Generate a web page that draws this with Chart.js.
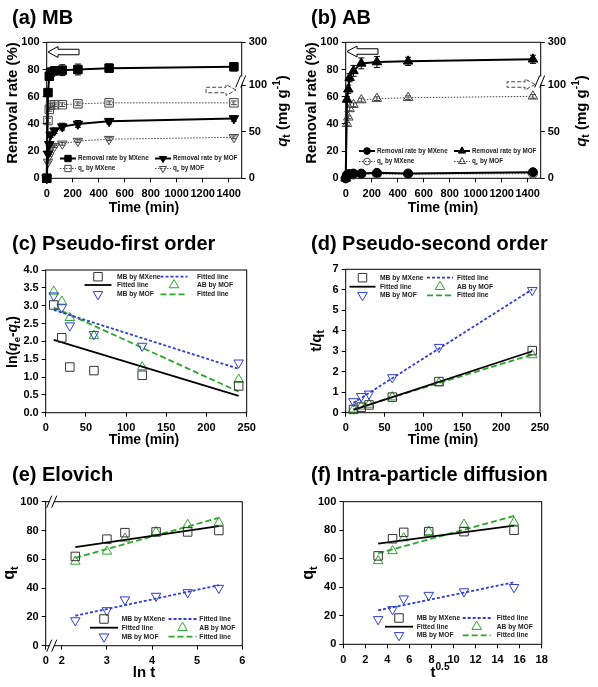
<!DOCTYPE html>
<html>
<head>
<meta charset="utf-8">
<script src="https://cdn.jsdelivr.net/npm/chart.js"></script>
<style>
  html, body { margin: 0; padding: 0; background: #fff; }
  #wrap { position: relative; width: 598px; height: 687px; overflow: hidden; }
  canvas { position: absolute; }
</style>
</head>
<body>
<div id="wrap">
  <canvas id="cA" width="299" height="229" style="left:0;top:0"></canvas>
  <canvas id="cB" width="299" height="229" style="left:299px;top:0"></canvas>
  <canvas id="cC" width="299" height="226" style="left:0;top:229px"></canvas>
  <canvas id="cD" width="299" height="226" style="left:299px;top:229px"></canvas>
  <canvas id="cE" width="299" height="232" style="left:0;top:455px"></canvas>
  <canvas id="cF" width="299" height="232" style="left:299px;top:455px"></canvas>
</div>
<script>
// ---------- data ----------
// (a), (b) kinetics, time in min
var timeMin = [0, 10, 20, 30, 60, 120, 240, 480, 1440];

var mbRemovalMXene    = [0, 63, 75, 78, 79, 79.5, 80, 81, 82];
var mbRemovalMXeneErr = [0, 2, 3, 3, 3, 4, 4, 3, 3];
var mbRemovalMOF      = [0, 18, 25, 32, 35, 38, 40, 42, 44];
var mbRemovalMOFErr   = [0, 1, 1.5, 2, 2, 2.5, 2.5, 2, 2];
var mbQeMXene         = [0, 62, 74, 78.5, 79, 79, 80, 81, 81];
var mbQeMXeneErr      = [0, 2.5, 2, 2, 2, 2, 2, 2, 2];
var mbQeMOF           = [0, 17.5, 24.5, 32, 34.5, 37, 40, 42, 44];
var mbQeMOFErr        = [0, 1, 1, 1.5, 1.5, 1.5, 1.5, 1.5, 1.5];

var abRemovalMXene    = [0, 2.5, 3, 3, 3.5, 3.5, 4, 3.5, 4.5];
var abRemovalMOF      = [0, 58, 65.5, 74, 79, 84.5, 85.5, 86, 87.5];
var abRemovalMOFErr   = [0, 2, 3, 3, 4, 4, 4, 3, 3];
var abQeMXene         = [0, 3, 3.5, 4, 4, 4.5, 4.5, 4.5, 5];
var abQeMOF           = [0, 58.5, 65.5, 74.5, 79, 84, 85.5, 86.5, 88];
var abQeMOFErr        = [0, 1.5, 1.5, 2, 2, 2, 2, 2, 2];

// right axis of (a)/(b) is broken: 0-100 linear, top tick labelled 300
var qAxisTop = 146;
var qAxisTopLabel = '300';
var qAxisTicks = [0, 50, 100];

// (c)-(f) model fitting, t = 10..240 min
var fitTime = [10, 20, 30, 60, 120, 240];
var lnT     = [2.30, 3.00, 3.40, 4.09, 4.79, 5.48];
var sqrtT   = [3.16, 4.47, 5.48, 7.75, 10.95, 15.49];

// (c) pseudo-first order ln(qe-qt)
var pfoMXene  = [3.02, 2.10, 1.28, 1.18, 1.05, 0.75];
var pfoMB_MOF = [3.28, 2.95, 2.44, 2.20, 1.87, 1.40];
var pfoAB_MOF = [3.40, 3.12, 2.66, 2.16, 1.28, 0.93];
var pfoFitX        = [10, 240];
var pfoFitMXene    = [2.04, 0.47];
var pfoFitMB_MOF   = [2.88, 1.23];
var pfoFitAB_MOF   = [2.95, 0.59];

// (d) pseudo-second order t/qt
var psoMXene  = [0.16, 0.27, 0.38, 0.76, 1.52, 3.03];
var psoMB_MOF = [0.55, 0.80, 0.92, 1.72, 3.20, 5.98];
var psoAB_MOF = [0.17, 0.31, 0.40, 0.76, 1.45, 2.82];
var psoFitX        = [10, 240];
var psoFitMXene    = [0.14, 3.00];
var psoFitMB_MOF   = [0.48, 6.02];
var psoFitAB_MOF   = [0.18, 2.84];

// (e), (f) qt
var qtMXene  = [62, 74, 78.5, 79, 79, 80];
var qtMB_MOF = [17.5, 24.5, 32, 34.5, 37, 40];
var qtAB_MOF = [58.5, 65.5, 74.5, 79, 84, 85.5];
var eloFitX        = [2.30, 5.48];
var eloFitMXene    = [68.5, 83];
var eloFitMB_MOF   = [20.8, 42];
var eloFitAB_MOF   = [61, 88.8];
var ipdFitX        = [3.16, 15.49];
var ipdFitMXene    = [70.6, 83.2];
var ipdFitMB_MOF   = [23.8, 43.5];
var ipdFitAB_MOF   = [63.8, 90];

// ---------- helpers ----------
var FONT = '"Liberation Sans", Arial, Helvetica, sans-serif';
var W = 299;
var BLUE = '#2f3fd6', GREEN = '#2ea62e', GREY = '#333';

function xy(xs, ys) {
  return xs.map(function (x, i) { return { x: x, y: ys[i] }; });
}

// "q_{t}" subscript, "^{-1}" superscript, "~{q}" italic
function richParts(str) {
  var out = [], re = /([_^~])\{([^}]*)\}/g, last = 0, m;
  while ((m = re.exec(str))) {
    if (m.index > last) out.push({ t: str.slice(last, m.index), k: '' });
    out.push({ t: m[2], k: m[1] });
    last = re.lastIndex;
  }
  if (last < str.length) out.push({ t: str.slice(last), k: '' });
  return out;
}

function drawRich(ctx, str, x, y, size, opt) {
  opt = opt || {};
  var weight = opt.weight || 'bold';
  var parts = richParts(str), w = 0;
  parts.forEach(function (p) {
    var small = p.k === '_' || p.k === '^';
    p.font = (p.k === '~' ? 'italic ' : '') + weight + ' ' + (small ? size * 0.68 : size) + 'px ' + FONT;
    p.dy = p.k === '_' ? size * 0.3 : p.k === '^' ? -size * 0.38 : 0;
    ctx.font = p.font;
    p.dx = w;
    w += ctx.measureText(p.t).width;
  });
  ctx.save();
  ctx.translate(x, y);
  if (opt.rot) ctx.rotate(opt.rot);
  ctx.fillStyle = opt.color || '#000';
  ctx.textBaseline = 'middle';
  ctx.textAlign = 'left';
  var x0 = opt.align === 'left' ? 0 : -w / 2;
  parts.forEach(function (p) {
    ctx.font = p.font;
    ctx.fillText(p.t, x0 + p.dx, p.dy);
  });
  ctx.restore();
}

function drawBreak(ctx, x, y) {
  ctx.save();
  ctx.beginPath();
  ctx.moveTo(x - 5, y + 5); ctx.lineTo(x - 1, y - 5);
  ctx.lineTo(x + 3, y - 5); ctx.lineTo(x - 1, y + 5);
  ctx.closePath();
  ctx.fillStyle = '#fff';
  ctx.fill();
  ctx.strokeStyle = '#000';
  ctx.lineWidth = 1;
  ctx.beginPath();
  ctx.moveTo(x - 6, y + 6); ctx.lineTo(x - 1, y - 6);
  ctx.moveTo(x - 1, y + 6); ctx.lineTo(x + 4, y - 6);
  ctx.stroke();
  ctx.restore();
}

function drawArrow(ctx, a) {
  // a.x1 = tail, a.x2 = tip
  var dir = a.x2 > a.x1 ? 1 : -1, hl = 10 * dir, hh = a.h / 2, sh = a.h / 4;
  var base = a.x2 - hl;
  ctx.save();
  ctx.beginPath();
  ctx.moveTo(a.x2, a.y);
  ctx.lineTo(base, a.y - hh);
  ctx.lineTo(base, a.y - sh);
  ctx.lineTo(a.x1, a.y - sh);
  ctx.lineTo(a.x1, a.y + sh);
  ctx.lineTo(base, a.y + sh);
  ctx.lineTo(base, a.y + hh);
  ctx.closePath();
  ctx.fillStyle = '#fff';
  ctx.fill();
  ctx.setLineDash(a.dashed ? [4, 2] : []);
  ctx.strokeStyle = a.dashed ? '#444' : '#000';
  ctx.lineWidth = 1;
  ctx.stroke();
  ctx.restore();
}

var decor = {
  id: 'decor',
  beforeDatasetsDraw: function (chart) {
    var ctx = chart.ctx, a = chart.chartArea;
    ctx.save();
    ctx.strokeStyle = '#000';
    ctx.lineWidth = 1;
    ctx.strokeRect(a.left, a.top, a.right - a.left, a.bottom - a.top);
    // error bars
    chart.data.datasets.forEach(function (d, i) {
      if (!d.errors) return;
      var meta = chart.getDatasetMeta(i), ys = chart.scales[d.yAxisID || 'y'];
      ctx.strokeStyle = d.pointBorderColor;
      ctx.beginPath();
      d.data.forEach(function (p, j) {
        var e = d.errors[j];
        if (!e) return;
        var x = meta.data[j].x, y1 = ys.getPixelForValue(p.y + e), y2 = ys.getPixelForValue(p.y - e);
        ctx.moveTo(x, y1); ctx.lineTo(x, y2);
        ctx.moveTo(x - 3, y1); ctx.lineTo(x + 3, y1);
        ctx.moveTo(x - 3, y2); ctx.lineTo(x + 3, y2);
      });
      ctx.stroke();
    });
    ctx.restore();
  },
  afterDatasetsDraw: function (chart, args, o) {
    var ctx = chart.ctx, a = chart.chartArea;
    (o.breaks || []).forEach(function (b) {
      if (b.axis === 'x') {
        var x = chart.scales.x.getPixelForValue(b.value);
        drawBreak(ctx, x, a.top);
        drawBreak(ctx, x, a.bottom);
      } else {
        drawBreak(ctx, a.right, chart.scales[b.axis].getPixelForValue(b.value));
      }
    });
    (o.arrows || []).forEach(function (ar) { drawArrow(ctx, ar); });
    var lg = o.legend;
    if (lg) {
      lg.items.forEach(function (it) {
        var d = chart.data.datasets[it[0]], col = lg.cols[it[1]], y = lg.rows[it[2]];
        ctx.save();
        if (d.showLine) {
          ctx.strokeStyle = d.borderColor;
          ctx.lineWidth = d.borderWidth;
          ctx.setLineDash(d.borderDash || []);
          ctx.beginPath();
          ctx.moveTo(col.cx - lg.len / 2, y);
          ctx.lineTo(col.cx + lg.len / 2, y);
          ctx.stroke();
        }
        if (d.pointRadius > 0) {
          ctx.setLineDash([]);
          ctx.fillStyle = d.pointBackgroundColor;
          ctx.strokeStyle = d.pointBorderColor;
          ctx.lineWidth = d.pointBorderWidth;
          Chart.helpers.drawPoint(ctx, {
            pointStyle: d.pointStyle, rotation: d.pointRotation || 0,
            radius: d.pointRadius * lg.mscale, borderWidth: d.pointBorderWidth
          }, col.cx, y);
        }
        ctx.restore();
        drawRich(ctx, d.label, col.tx, y, lg.size, { align: 'left', color: '#222' });
      });
    }
  },
  afterDraw: function (chart, args, o) {
    (o.texts || []).forEach(function (t) {
      drawRich(chart.ctx, t.s, t.x, t.y, t.size, { rot: t.rot ? -Math.PI / 2 : 0, align: t.align });
    });
  }
};

var tickFont = { family: FONT, size: 11, weight: 'bold' };

function axis(pos, min, max, step, size, more) {
  var horiz = pos === 'bottom';
  var a = {
    type: 'linear', position: pos, min: min, max: max,
    ticks: { stepSize: step, includeBounds: false, autoSkip: false, maxRotation: 0,
             color: '#000', padding: horiz ? 5 : 3, font: tickFont,
             callback: function (v) { return String(v); } },
    grid: { drawOnChartArea: false, drawTicks: true, tickLength: 4, color: '#000', lineWidth: 1 },
    border: { display: false }
  };
  more = more || {};
  if (more.callback) a.ticks.callback = more.callback;
  if (more.afterBuildTicks) a.afterBuildTicks = more.afterBuildTicks;
  return a;
}

function pts(label, data, color, style, rot, filled, more) {
  return Object.assign({
    label: label, data: data, showLine: false, clip: false,
    borderColor: color, borderWidth: 1,
    pointStyle: style, pointRotation: rot, pointRadius: style === 'rect' ? 6 : 5.5,
    pointBorderColor: color, pointBackgroundColor: filled ? color : 'rgba(0,0,0,0)',
    pointBorderWidth: 1
  }, more || {});
}

function fitLine(label, data, color, dash, width) {
  return {
    label: label, data: data, showLine: true, clip: false,
    borderColor: color, borderWidth: width || 1.6, borderDash: dash,
    pointRadius: 0, pointBorderWidth: 0
  };
}

function make(id, area, H, datasets, scales, dec) {
  var layoutRight = scales.y2 ? 0 : W - area.r;
  scales.x.afterFit = function (s) { s.height = H - area.b; };
  scales.y.afterFit = function (s) { s.width = area.l; };
  if (scales.y2) scales.y2.afterFit = function (s) { s.width = W - area.r; };
  return new Chart(document.getElementById(id), {
    type: 'scatter',
    data: { datasets: datasets },
    options: {
      responsive: false, animation: false, events: [],
      layout: { padding: { left: 0, top: area.t, right: layoutRight, bottom: 0 } },
      plugins: { legend: { display: false }, tooltip: { enabled: false }, decor: dec },
      scales: scales
    },
    plugins: [decor]
  });
}

function qAxis() {
  return axis('right', 0, qAxisTop, 50, 0, {
    afterBuildTicks: function (s) {
      s.ticks = qAxisTicks.concat([qAxisTop]).map(function (v) { return { value: v }; });
    },
    callback: function (v) { return v === qAxisTop ? qAxisTopLabel : String(v); }
  });
}

function kinTexts(title) {
  return [
    { s: title, x: 12, y: 18, size: 20, align: 'left' },
    { s: 'Removal rate (%)', x: 13, y: 103, size: 15, rot: true },
    { s: 'Time (min)', x: 144, y: 208, size: 14 },
    { s: '~{q}_{t} (mg g^{-1})', x: 283, y: 111, size: 15, rot: true }
  ];
}

// ---------- (a) MB ----------
make('cA', { l: 46.7, t: 42.3, r: 241.7, b: 178.3 }, 229, [
  pts('Removal rate by MXene', xy(timeMin, mbRemovalMXene), '#000', 'rect', 0, true,
      { showLine: true, borderWidth: 2, errors: mbRemovalMXeneErr }),
  pts('q_{e} by MXene', xy(timeMin, mbQeMXene), '#444', 'rect', 0, false,
      { yAxisID: 'y2', showLine: true, borderDash: [1.5, 1.5], errors: mbQeMXeneErr }),
  pts('Removal rate by MOF', xy(timeMin, mbRemovalMOF), '#000', 'triangle', 180, true,
      { showLine: true, borderWidth: 2, errors: mbRemovalMOFErr }),
  pts('q_{e} by MOF', xy(timeMin, mbQeMOF), '#444', 'triangle', 180, false,
      { yAxisID: 'y2', showLine: true, borderDash: [1.5, 1.5], errors: mbQeMOFErr })
], {
  x: axis('bottom', 0, 1500, 200),
  y: axis('left', 0, 100, 20),
  y2: qAxis()
}, {
  texts: kinTexts('(a) MB'),
  breaks: [{ axis: 'y2', value: 104 }],
  arrows: [{ x1: 79, x2: 48, y: 52, h: 11 }, { x1: 206, x2: 236, y: 90, h: 11, dashed: true }],
  legend: {
    len: 16, size: 6.3, mscale: 0.75,
    cols: [{ cx: 68, tx: 78 }, { cx: 163, tx: 173 }],
    rows: [158.5, 168.5],
    items: [[0, 0, 0], [1, 0, 1], [2, 1, 0], [3, 1, 1]]
  }
});

// ---------- (b) AB ----------
make('cB', { l: 46.7, t: 42.3, r: 241.7, b: 178.3 }, 229, [
  pts('Removal rate by MXene', xy(timeMin, abRemovalMXene), '#000', 'circle', 0, true,
      { showLine: true, borderWidth: 2, pointRadius: 4.5 }),
  pts('q_{e} by MXene', xy(timeMin, abQeMXene), '#444', 'circle', 0, false,
      { yAxisID: 'y2', showLine: true, borderDash: [1.5, 1.5], pointRadius: 4.5 }),
  pts('Removal rate by MOF', xy(timeMin, abRemovalMOF), '#000', 'triangle', 0, true,
      { showLine: true, borderWidth: 2, errors: abRemovalMOFErr }),
  pts('q_{e} by MOF', xy(timeMin, abQeMOF), '#444', 'triangle', 0, false,
      { yAxisID: 'y2', showLine: true, borderDash: [1.5, 1.5], errors: abQeMOFErr })
], {
  x: axis('bottom', 0, 1500, 200),
  y: axis('left', 0, 100, 20),
  y2: qAxis()
}, {
  texts: kinTexts('(b) AB'),
  breaks: [{ axis: 'y2', value: 104 }],
  arrows: [{ x1: 79, x2: 48, y: 51.5, h: 11 }, { x1: 208, x2: 236, y: 84.5, h: 11, dashed: true }],
  legend: {
    len: 16, size: 6.3, mscale: 0.75,
    cols: [{ cx: 68, tx: 78 }, { cx: 163, tx: 173 }],
    rows: [151, 161.5],
    items: [[0, 0, 0], [1, 0, 1], [2, 1, 0], [3, 1, 1]]
  }
});

function fitSets(xs, ys1, ys2, ys3, fx, f1, f2, f3) {
  return [
    pts('MB by MXene', xy(xs, ys1), GREY, 'rect', 0, false),
    fitLine('Fitted line', xy(fx, f1), '#000', [], 1.8),
    pts('MB by MOF', xy(xs, ys2), BLUE, 'triangle', 180, false),
    fitLine('Fitted line', xy(fx, f2), BLUE, [3, 2], 1.8),
    pts('AB by MOF', xy(xs, ys3), GREEN, 'triangle', 0, false),
    fitLine('Fitted line', xy(fx, f3), GREEN, [6, 3], 1.8)
  ];
}
var fitItems = [[0, 0, 0], [1, 0, 1], [2, 0, 2], [3, 1, 0], [4, 1, 1], [5, 1, 2]];

// ---------- (c) pseudo-first order ----------
make('cC', { l: 45.7, t: 41, r: 246.7, b: 183.7 }, 226,
  fitSets(fitTime, pfoMXene, pfoMB_MOF, pfoAB_MOF, pfoFitX, pfoFitMXene, pfoFitMB_MOF, pfoFitAB_MOF), {
  x: axis('bottom', 0, 250, 50),
  y: axis('left', 0, 4, 0.5, 0, { callback: function (v) { return v.toFixed(1); } })
}, {
  texts: [
    { s: '(c) Pseudo-first order', x: 12, y: 15.5, size: 20, align: 'left' },
    { s: 'ln(~{q}_{e}-~{q}_{t})', x: 13, y: 113, size: 14, rot: true },
    { s: 'Time (min)', x: 144, y: 211, size: 14 }
  ],
  legend: {
    len: 27, size: 6.7, mscale: 1,
    cols: [{ cx: 98, tx: 117 }, { cx: 174, tx: 197 }],
    rows: [47.7, 56, 65.3],
    items: fitItems
  }
});

// ---------- (d) pseudo-second order ----------
make('cD', { l: 46.7, t: 40.3, r: 241, b: 183.7 }, 226,
  fitSets(fitTime, psoMXene, psoMB_MOF, psoAB_MOF, psoFitX, psoFitMXene, psoFitMB_MOF, psoFitAB_MOF), {
  x: axis('bottom', 0, 250, 50),
  y: axis('left', 0, 7, 1)
}, {
  texts: [
    { s: '(d) Pseudo-second order', x: 12, y: 15.5, size: 20, align: 'left' },
    { s: 't/q_{t}', x: 17.5, y: 112, size: 15, rot: true },
    { s: 'Time (min)', x: 144, y: 211, size: 14 }
  ],
  legend: {
    len: 26, size: 6.7, mscale: 1,
    cols: [{ cx: 63.5, tx: 81 }, { cx: 141, tx: 158 }],
    rows: [48.7, 57.7, 66.3],
    items: fitItems
  }
});

// ---------- (e) Elovich ----------
make('cE', { l: 45.7, t: 46.7, r: 242.3, b: 190.7 }, 232,
  fitSets(lnT, qtMXene, qtMB_MOF, qtAB_MOF, eloFitX, eloFitMXene, eloFitMB_MOF, eloFitAB_MOF), {
  x: axis('bottom', 1.644, 6, 1, 0, {
    afterBuildTicks: function (s) {
      s.ticks = [s.min, 2, 3, 4, 5, 6].map(function (v) { return { value: v }; });
    },
    callback: function (v) { return v < 1.9 ? '0' : String(v); }
  }),
  y: axis('left', 0, 100, 20)
}, {
  texts: [
    { s: '(e) Elovich', x: 12, y: 20.5, size: 20, align: 'left' },
    { s: 'q_{t}', x: 10, y: 118, size: 16, rot: true },
    { s: 'ln t', x: 144, y: 218, size: 15 }
  ],
  breaks: [{ axis: 'x', value: 1.8 }],
  legend: {
    len: 28, size: 6.7, mscale: 1,
    cols: [{ cx: 104, tx: 121.7 }, { cx: 182.5, tx: 199.3 }],
    rows: [164, 172.7, 181.7],
    items: fitItems
  }
});

// ---------- (f) intra-particle diffusion ----------
make('cF', { l: 44.3, t: 46.7, r: 242.7, b: 189.3 }, 232,
  fitSets(sqrtT, qtMXene, qtMB_MOF, qtAB_MOF, ipdFitX, ipdFitMXene, ipdFitMB_MOF, ipdFitAB_MOF), {
  x: axis('bottom', 0, 18, 2),
  y: axis('left', 0, 100, 20)
}, {
  texts: [
    { s: '(f) Intra-particle diffusion', x: 12, y: 20.5, size: 20, align: 'left' },
    { s: 'q_{t}', x: 10, y: 118, size: 16, rot: true },
    { s: 't^{0.5}', x: 141, y: 218, size: 15 }
  ],
  legend: {
    len: 28, size: 6.7, mscale: 1,
    cols: [{ cx: 100, tx: 117.7 }, { cx: 177.7, tx: 197.7 }],
    rows: [163, 171.7, 180.3],
    items: fitItems
  }
});
</script>
</body>
</html>
